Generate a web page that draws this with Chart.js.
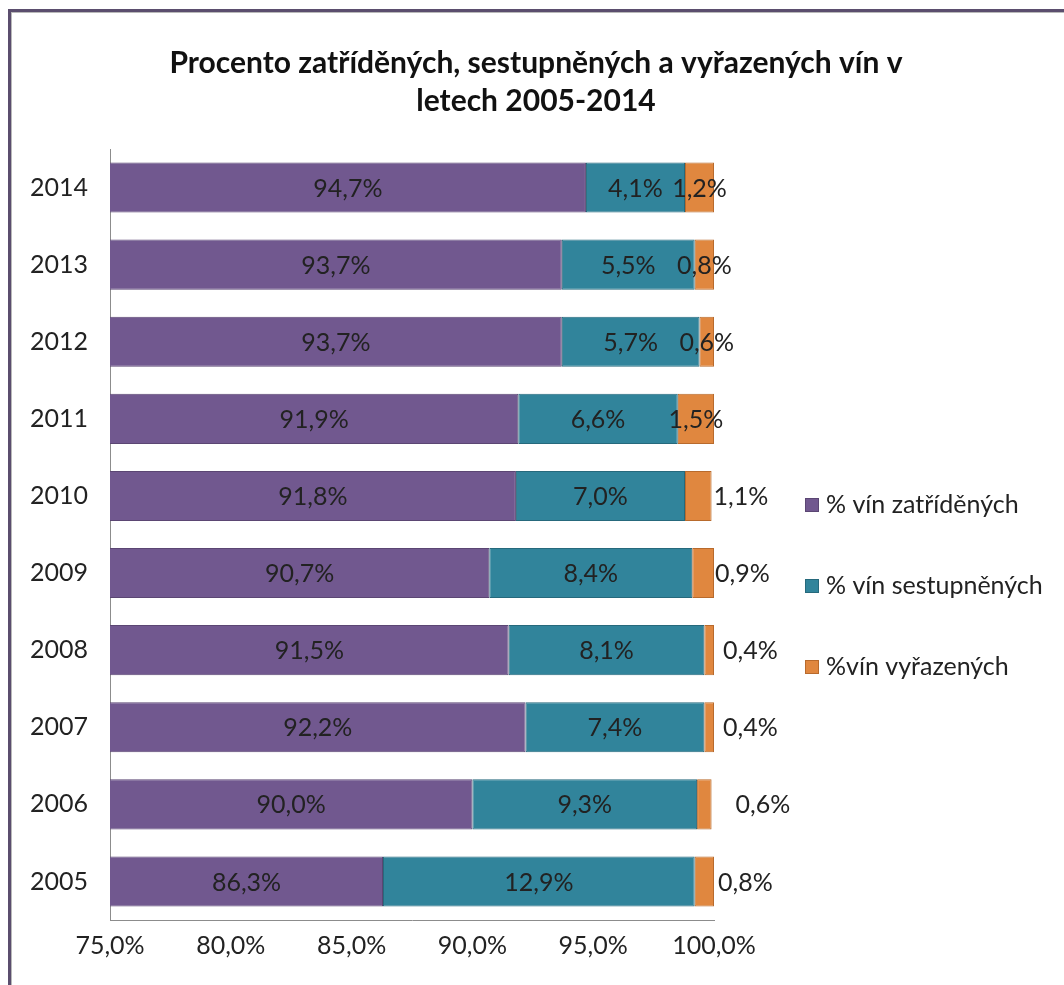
<html>
<head>
  <title>Procento zatříděných, sestupněných a vyřazených vín</title>
  <script src="https://cdn.jsdelivr.net/npm/chart.js"></script>
  <style>
    body { margin: 0; background: #fff; }
    #wrap { width: 1064px; height: 985px; }
  </style>
</head>
<body>
  <div id="wrap"><canvas id="myChart" width="1064" height="985"></canvas></div>

  <script>
    // Years (bottom to top in the chart)
    var years = ["2005", "2006", "2007", "2008", "2009", "2010", "2011", "2012", "2013", "2014"];

    // Series values in percent
    var zatridenych = [86.3, 90.0, 92.2, 91.5, 90.7, 91.8, 91.9, 93.7, 93.7, 94.7];
    var sestupnenych = [12.9, 9.3, 7.4, 8.1, 8.4, 7.0, 6.6, 5.7, 5.5, 4.1];
    var vyrazenych = [0.8, 0.6, 0.4, 0.4, 0.9, 1.1, 1.5, 0.6, 0.8, 1.2];

    var seriesNames = ["% vín zatříděných", "% vín sestupněných", "%vín vyřazených"];
    var titleLines = ["Procento zatříděných, sestupněných a vyřazených vín v", "letech 2005-2014"];

    // gap (px) of the orange label from the bar end; null = centred on the segment
    var orangeLabelGap = [4, 24, 9, 9, 1, 2, null, null, null, null];

    var FONT = "Lato";
    var TEXT_SIZE = 25;

    function fmt(v) {
      return v.toFixed(1).replace(".", ",") + "%";
    }

    // white background, the grey/purple frame and the title
    var framePlugin = {
      id: "frame",
      beforeDraw: function (chart) {
        var c = chart.ctx;
        c.save();
        c.fillStyle = "#ffffff";
        c.fillRect(0, 0, chart.width, chart.height);
        c.fillStyle = "#5b4e6e";
        c.fillRect(8, 9, chart.width - 8, 3);
        c.fillRect(8, 9, 3, chart.height - 9);
        c.fillStyle = "#b9b9b9";
        c.fillRect(11, 12, chart.width - 11, 1);
        c.fillRect(11, 12, 1, chart.height - 12);

        c.fillStyle = "#111111";
        c.font = "bold 30px " + FONT;
        c.textAlign = "center";
        c.textBaseline = "middle";
        titleLines.forEach(function (line, i) {
          c.fillText(line, 536, 63 + i * 38);
        });
        c.restore();
      }
    };

    // value labels on the bars
    var labelPlugin = {
      id: "barLabels",
      afterDatasetsDraw: function (chart) {
        var c = chart.ctx;
        var xs = chart.scales.x;
        c.save();
        c.font = TEXT_SIZE + "px " + FONT;
        c.fillStyle = "#222222";
        c.textBaseline = "middle";
        chart.data.datasets.forEach(function (ds, di) {
          var meta = chart.getDatasetMeta(di);
          meta.data.forEach(function (bar, i) {
            var left = Math.max(bar.base, xs.left);
            var right = bar.x;
            var text = fmt(ds.data[i]);
            if (di === 2 && orangeLabelGap[i] !== null) {
              c.textAlign = "left";
              c.fillText(text, right + orangeLabelGap[i], bar.y + 1);
            } else {
              c.textAlign = "center";
              c.fillText(text, (left + right) / 2, bar.y + 1);
            }
          });
        });
        c.restore();
      }
    };

    // legend to the right of the plot
    var legendPlugin = {
      id: "sideLegend",
      afterDraw: function (chart) {
        var c = chart.ctx;
        c.save();
        c.font = TEXT_SIZE + "px " + FONT;
        c.textBaseline = "middle";
        c.textAlign = "left";
        chart.data.datasets.forEach(function (ds, di) {
          var y = 505 + di * 81;
          c.fillStyle = ds.backgroundColor;
          c.fillRect(805, y - 7, 14, 14);
          c.strokeStyle = ds.borderColor;
          c.lineWidth = 1;
          c.strokeRect(805.5, y - 6.5, 13, 13);
          c.fillStyle = "#222222";
          c.fillText(ds.label, 826, y);
        });
        c.restore();
      }
    };

    var ctx = document.getElementById("myChart").getContext("2d");

    var chart = new Chart(ctx, {
      type: "bar",
      data: {
        labels: years,
        datasets: [
          {
            label: seriesNames[0],
            data: zatridenych,
            backgroundColor: "#71588f",
            borderColor: "#5b4673",
            borderWidth: 1,
            borderSkipped: false
          },
          {
            label: seriesNames[1],
            data: sestupnenych,
            backgroundColor: "#31849b",
            borderColor: "#26697c",
            borderWidth: 1,
            borderSkipped: false
          },
          {
            label: seriesNames[2],
            data: vyrazenych,
            backgroundColor: "#e0873f",
            borderColor: "#b86a2c",
            borderWidth: 1,
            borderSkipped: false
          }
        ]
      },
      options: {
        indexAxis: "y",
        responsive: false,
        animation: false,
        layout: { padding: { left: 0, right: 350, top: 149, bottom: 0 } },
        datasets: {
          bar: { categoryPercentage: 1.0, barPercentage: 0.65 }
        },
        scales: {
          x: {
            stacked: true,
            min: 75,
            max: 100,
            grid: { display: false, drawTicks: false },
            border: { display: true, color: "#8c8c8c", width: 1 },
            ticks: {
              stepSize: 5,
              padding: 11,
              color: "#222222",
              font: { family: FONT, size: TEXT_SIZE },
              callback: function (v) { return fmt(v); },
              maxRotation: 0
            },
            afterFit: function (scale) { scale.height = 65; }
          },
          y: {
            stacked: true,
            reverse: true,
            grid: { display: false, drawTicks: false },
            border: { display: true, color: "#8c8c8c", width: 1 },
            ticks: {
              padding: 22,
              color: "#222222",
              font: { family: FONT, size: TEXT_SIZE }
            },
            afterFit: function (scale) { scale.width = 110; }
          }
        },
        plugins: {
          legend: { display: false },
          tooltip: { enabled: false },
          title: { display: false }
        }
      },
      plugins: [framePlugin, labelPlugin, legendPlugin]
    });
  </script>
</body>
</html>
